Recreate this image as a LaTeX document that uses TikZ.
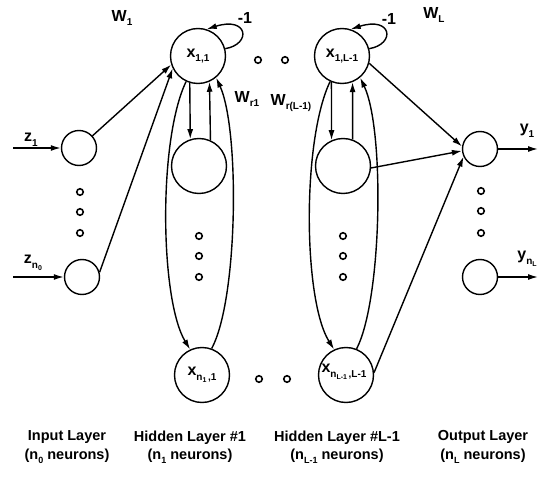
\documentclass[tikz,border=0pt]{standalone}
\usepackage{fontspec}
\setmainfont{Liberation Sans}
\usetikzlibrary{arrows.meta}
\newcommand\lsub[1]{\raisebox{-0.55ex}{\fontsize{10}{10}\selectfont #1}}
\newcommand\llsub[1]{\raisebox{-0.4ex}{\fontsize{7}{7}\selectfont #1}}
\newcommand\csub[1]{\raisebox{-0.5ex}{\fontsize{9}{9}\selectfont #1}}
\begin{document}
\begin{tikzpicture}[x=1pt,y=-1pt,
  font=\fontsize{16}{18}\selectfont\bfseries,
  >={Latex[length=10pt,width=6pt]},
  every path/.style={line width=1.4pt},
  big/.style={draw,circle,minimum size=55pt,inner sep=0pt,line width=1.4pt},
  small/.style={draw,circle,minimum size=35pt,inner sep=0pt,line width=1.4pt},
  dotc/.style={draw,circle,minimum size=6.5pt,inner sep=0pt,line width=1.6pt},
  lbl/.style={inner sep=0pt},
  layer/.style={align=center,font=\fontsize{14.5}{18.5}\selectfont\bfseries}]
\useasboundingbox (0,0) rectangle (539,492);
% input layer
\node[small] (z1) at (79,148) {};
\node[small] (zn) at (82,277) {};
\coordinate (zi1) at (13,148);
\coordinate (zin) at (13,277);
\node[lbl] (lz1) at (31,140) {z\lsub{1}};
\node[lbl] (lzn) at (33,263) {z\lsub{n\llsub{0}}};
\node[dotc] (d1) at (80,192) {};
\node[dotc] (d2) at (80,212) {};
\node[dotc] (d3) at (80,233) {};
% hidden layer 1
\node[big] (x11) at (198,56) {x\lsub{1,1}};
\node[big] (h1m) at (199,166) {};
\node[big] (xn1) at (202,375) {x\lsub{n\llsub{1}\,,1}};
\node[dotc] (e1) at (199,236) {};
\node[dotc] (e2) at (199,256) {};
\node[dotc] (e3) at (199,277) {};
% hidden layer L-1
\node[big] (x1L) at (342,56) {x\lsub{1,L-1}};
\node[big] (hLm) at (343,166) {};
\node[big] (xnL) at (346,375) {};
\node[lbl] (lxnL) at (344,372) {x\lsub{n\llsub{L-1}\,,L-1}};
\node[dotc] (f1) at (343,236) {};
\node[dotc] (f2) at (343,256) {};
\node[dotc] (f3) at (343,277) {};
% between dots
\node[dotc] (t1) at (258,60) {};
\node[dotc] (t2) at (285,60) {};
\node[dotc] (b1) at (259,379) {};
\node[dotc] (b2) at (287,379) {};
% output layer
\node[small] (y1) at (480,149) {};
\node[small] (yn) at (480,277) {};
\coordinate (yo1) at (538,149);
\coordinate (yon) at (538,277);
\node[lbl] (ly1) at (527,131) {y\lsub{1}};
\node[lbl] (lyn) at (527,259) {y\lsub{n\llsub{L}}};
\node[dotc] (g1) at (481,191) {};
\node[dotc] (g2) at (481,211) {};
\node[dotc] (g3) at (481,233) {};
% weight labels
\node[lbl] (W1) at (122,18) {W\lsub{1}};
\node[lbl] (WL) at (434,15) {W\lsub{L}};
\node[lbl] (Wr1) at (247,99) {W\lsub{r1}};
\node[lbl] (WrL) at (291,103) {W\lsub{r(L-1)}};
\node[lbl] (m1) at (245,18) {-1};
\node[lbl] (m2) at (389,19) {-1};
% layer captions
\node[layer] (c1) at (67,447) {Input Layer\\(n\csub{0} neurons)};
\node[layer] (c2) at (190,447) {Hidden Layer \#1\\(n\csub{1} neurons)};
\node[layer] (c3) at (337,447) {Hidden Layer \#L-1\\(n\csub{L-1} neurons)};
\node[layer] (c4) at (483,447) {Output Layer\\(n\csub{L} neurons)};
% connectors: inputs
\draw[->] (zi1) -- (z1);
\draw[->] (zin) -- (zn);
\draw[->] (z1) -- (x11.198);
\draw[->] (zn.15) -- (x11.206);
% hidden 1
\draw[->] (x11.253) -- (h1m.108);
\draw[->] (h1m.66) -- (x11.294);
\draw[->] (x11.245) .. controls (158,140) and (160,300) .. (xn1.115);
\draw[->] (xn1.70) .. controls (238,300) and (240,130) .. (x11.310);
\draw[->] (x11.15) .. controls (252,44) and (248,16) .. (x11.72);
% hidden L-1
\draw[->] (x1L.248) -- (hLm.114);
\draw[->] (hLm.70) -- (x1L.292);
\draw[->] (x1L.245) .. controls (302,140) and (303,300) .. (xnL.115);
\draw[->] (xnL.68) .. controls (382,300) and (385,130) .. (x1L.310);
\draw[->] (x1L.15) .. controls (396,44) and (392,16) .. (x1L.72);
% to output
\draw[->] (x1L.345) -- (y1.172);
\draw[->] (hLm.356) -- (y1.186);
\draw[->] (xnL.5) -- (y1.205);
\draw[->] (y1) -- (yo1);
\draw[->] (yn) -- (yon);
\end{tikzpicture}
\end{document}
